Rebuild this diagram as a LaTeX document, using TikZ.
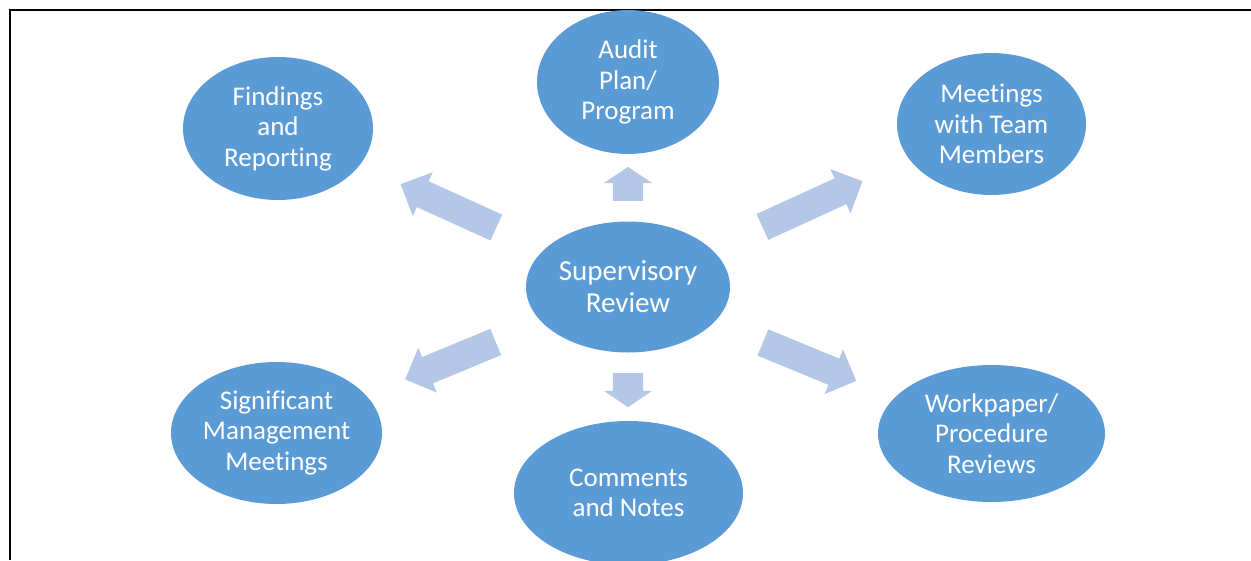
\documentclass[tikz,border=0pt]{standalone}
\usepackage{fontspec}
\setmainfont{Carlito}[Ligatures=NoCommon]
\usetikzlibrary{shapes.geometric,shapes.arrows}
\definecolor{nodeblue}{HTML}{5B9BD5}
\definecolor{arrowblue}{HTML}{B4C7E7}
\tikzset{
  bubble/.style={ellipse, fill=nodeblue, draw=none, inner sep=0pt,
    text=white, align=center, font=\fontsize{27}{30.5}\selectfont},
  hub/.style={bubble, font=\fontsize{29}{32}\selectfont},
  blockarrow/.style={single arrow, fill=arrowblue, draw=none,
    inner xsep=0pt, inner ysep=14pt, single arrow head extend=10pt,
    single arrow tip angle=90},
  shortarrow/.style={blockarrow, inner ysep=15pt, single arrow head extend=9pt,
    single arrow tip angle=112},
  frameline/.style={line width=2pt, black}
}
\begin{document}
\begin{tikzpicture}[x=1pt, y=-1pt]
  \useasboundingbox (0,0) rectangle (1251,560);
  % page frame
  \draw[frameline] (9.5,560) -- (9.5,9.5) -- (1251,9.5);

  % centre and surrounding topics
  \node[hub, minimum width=204pt, minimum height=131pt] (sr) at (628,287) {Supervisory\\Review};
  \node[bubble, minimum width=182pt, minimum height=144pt] (ap) at (628,82) {Audit\\Plan/\\Program};
  \node[bubble, minimum width=190pt, minimum height=143pt] (fr) at (278,128.5) {Findings\\and\\Reporting};
  \node[bubble, minimum width=189pt, minimum height=142pt] (mt) at (991.5,124) {Meetings\\with Team\\Members};
  \node[bubble, minimum width=211pt, minimum height=142pt] (sm) at (276.5,433) {Significant\\Management\\Meetings};
  \node[bubble, minimum width=229pt, minimum height=144pt] (cn) at (628.5,493) {Comments\\and Notes};
  \node[bubble, minimum width=227pt, minimum height=137pt] (wp) at (991.5,433.5) {Workpaper/\\Procedure\\Reviews};

  % block arrows pointing outwards from the centre
  \node[shortarrow, minimum height=34pt, rotate=90] (aup) at (628,189) {};
  \node[shortarrow, minimum height=34pt, rotate=-90] (adown) at (628,385) {};
  \node[blockarrow, minimum height=105pt, rotate=155.6] (aul) at (455,208.8) {};
  \node[blockarrow, minimum height=110pt, rotate=24.6] (aur) at (806,207) {};
  \node[blockarrow, minimum height=98pt, rotate=202.5] (all) at (457,358) {};
  \node[blockarrow, minimum height=101pt, rotate=-22.4] (alr) at (803,359) {};
\end{tikzpicture}
\end{document}
